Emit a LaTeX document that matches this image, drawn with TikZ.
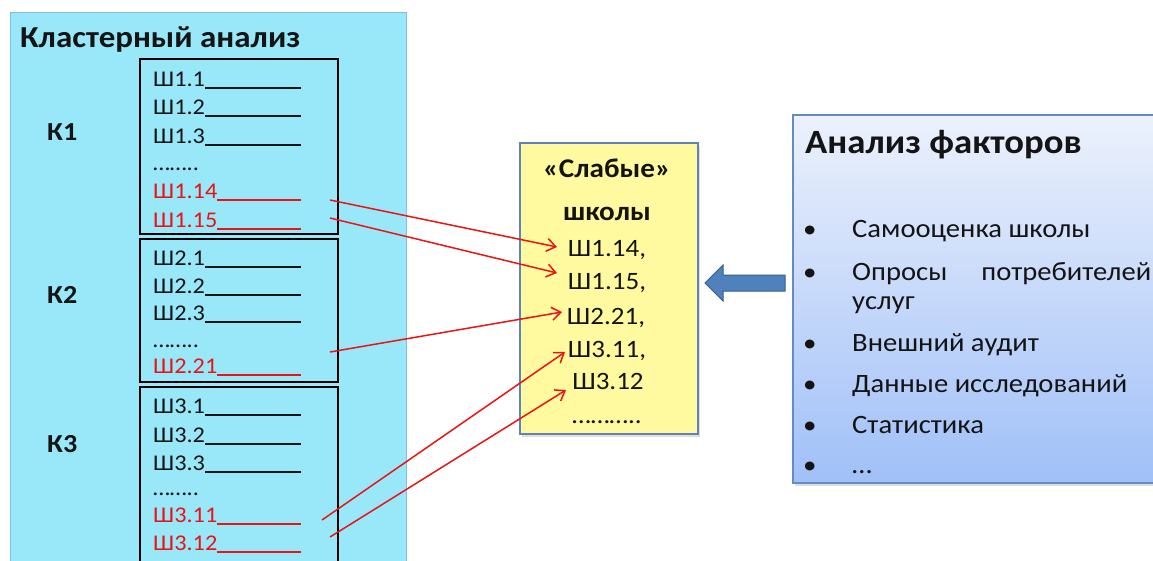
\documentclass[tikz,border=0pt]{standalone}
\usepackage{fontspec}
\setmainfont{Carlito}[FakeStretch=1.08]
\usetikzlibrary{arrows.meta,shadows,calc}

\definecolor{panelcyan}{RGB}{152,232,250}
\definecolor{paneledge}{RGB}{130,190,235}
\definecolor{notefill}{RGB}{255,250,160}
\definecolor{noteedge}{RGB}{95,130,185}
\definecolor{factortop}{RGB}{236,241,252}
\definecolor{factorbot}{RGB}{160,192,248}
\definecolor{factoredge}{RGB}{100,140,195}
\definecolor{pointerfill}{RGB}{79,129,189}
\definecolor{pointeredge}{RGB}{56,93,138}
\definecolor{pickred}{RGB}{235,20,20}
\definecolor{ink}{RGB}{20,20,20}

% a school entry followed by a blank line up to a fixed right edge
\newcommand\schoolrow[1]{\hbox to 148pt{#1\leaders\hrule height -1pt depth 2.8pt\hfill}}

\begin{document}
\begin{tikzpicture}[x=1pt,y=-1pt,
  rowtext/.style={anchor=base west, inner sep=0pt, text=ink, font=\fontsize{22.5}{22.5}\selectfont},
  pickrow/.style={rowtext, text=pickred},
  clusterlabel/.style={anchor=base west, inner sep=0pt, text=ink, font=\bfseries\fontsize{26}{26}\selectfont},
  clusterbox/.style={draw=black, line width=1.6pt},
  weaktext/.style={anchor=base, inner sep=0pt, text=ink, font=\fontsize{25}{25}\selectfont},
  weaktitle/.style={anchor=base, inner sep=0pt, text=ink, font=\bfseries\fontsize{27}{27}\selectfont},
  factortext/.style={anchor=base west, inner sep=0pt, text=ink, font=\fontsize{26.5}{26.5}\selectfont},
  bulletmark/.style={anchor=base west, inner sep=0pt, text=ink, font=\fontsize{25}{25}\selectfont},
  linkarrow/.style={draw=pickred, line width=1.5pt, -{Straight Barb[length=9pt,width=13pt]}},
]
\useasboundingbox (0,0) rectangle (1153,560);
\fill[white] (0,0) rectangle (1153,560);

% cluster analysis panel
\path[fill=panelcyan, draw=paneledge, line width=0.6pt] (10,12) rectangle (406,575);
\node[anchor=base west, inner sep=0pt, text=ink, font=\bfseries\fontsize{30.5}{30.5}\selectfont]
  (clustertitle) at (20,47) {Кластерный анализ};

% cluster boxes
\draw[clusterbox] (140,59) rectangle (338,234);
\draw[clusterbox] (140,239) rectangle (338,382);
\draw[clusterbox] (140,387) rectangle (338,575);

\node[clusterlabel] (k1) at (47,140) {К1};
\node[clusterlabel] (k2) at (47,303) {К2};
\node[clusterlabel] (k3) at (47,452) {К3};

% cluster 1
\node[rowtext] (s11) at (153,86) {\schoolrow{Ш1.1}};
\node[rowtext] (s12) at (153,114) {\schoolrow{Ш1.2}};
\node[rowtext] (s13) at (153,143) {\schoolrow{Ш1.3}};
\node[rowtext] (s1d) at (153,170) {……..};
\node[pickrow] (s114) at (153,198) {\schoolrow{Ш1.14}};
\node[pickrow] (s115) at (153,227) {\schoolrow{Ш1.15}};
% cluster 2
\node[rowtext] (s21) at (153,265) {\schoolrow{Ш2.1}};
\node[rowtext] (s22) at (153,293) {\schoolrow{Ш2.2}};
\node[rowtext] (s23) at (153,320) {\schoolrow{Ш2.3}};
\node[rowtext] (s2d) at (153,347) {……..};
\node[pickrow] (s221) at (153,373) {\schoolrow{Ш2.21}};
% cluster 3
\node[rowtext] (s31) at (153,413) {\schoolrow{Ш3.1}};
\node[rowtext] (s32) at (153,442) {\schoolrow{Ш3.2}};
\node[rowtext] (s33) at (153,470) {\schoolrow{Ш3.3}};
\node[rowtext] (s3d) at (153,495) {……..};
\node[pickrow] (s311) at (153,522) {\schoolrow{Ш3.11}};
\node[pickrow] (s312) at (153,550) {\schoolrow{Ш3.12}};

% weak schools note
\path[fill=notefill, draw=noteedge, line width=1.6pt,
  drop shadow={shadow xshift=2pt, shadow yshift=-3pt, opacity=0.25}]
  (520,143) rectangle (698,434);
\node[weaktitle] (wt1) at (607,177) {«Слабые»};
\node[weaktitle] (wt2) at (607,220) {школы};
\node[weaktext] (w114) at (607,256) {Ш1.14,};
\node[weaktext] (w115) at (607,289) {Ш1.15,};
\node[weaktext] (w221) at (606,324) {Ш2.21,};
\node[weaktext] (w311) at (607,357) {Ш3.11,};
\node[weaktext] (w312) at (608,389) {Ш3.12};
\node[weaktext] (wdots) at (607,423) {………..};

% arrow ends
\coordinate (a114) at (330,200);
\coordinate (a115) at (330,218);
\coordinate (a221) at (330,352);
\coordinate (a311) at (322,520);
\coordinate (a312) at (330,537);
\coordinate (b114) at (557,247);
\coordinate (b115) at (557,273);
\coordinate (b221) at (562,312);
\coordinate (b311) at (565,352);
\coordinate (b312) at (566,390);

\draw[linkarrow] (a114) -- (b114);
\draw[linkarrow] (a115) -- (b115);
\draw[linkarrow] (a221) -- (b221);
\draw[linkarrow] (a311) -- (b311);
\draw[linkarrow] (a312) -- (b312);

% factor analysis panel
\path[top color=factortop, bottom color=factorbot, draw=factoredge, line width=1.4pt,
  drop shadow={shadow xshift=2pt, shadow yshift=-3pt, opacity=0.25}]
  (793,115) rectangle (1165,483);
\node[anchor=base west, inner sep=0pt, text=ink, font=\bfseries\fontsize{34}{34}\selectfont]
  (factortitle) at (805,153) {Анализ факторов};

\foreach \yy/\nm in {237/f1,280/f2,351/f3,392/f4,433/f5,473/f6}{
  \node[bulletmark] (b\nm) at (803,\yy) {•};
}
\node[factortext] (f1) at (852,237) {Самооценка школы};
\node[factortext] (f2) at (852,280) {\hbox to 299pt{Опросы\hfill потребителей}};
\node[factortext] (f2b) at (852,309) {услуг};
\node[factortext] (f3) at (852,351) {Внешний аудит};
\node[factortext] (f4) at (852,392) {Данные исследований};
\node[factortext] (f5) at (852,433) {Статистика};
\node[factortext] (f6) at (852,473) {…};

% pointer from factors to weak schools
\coordinate (ptip) at (705,283);
\path[fill=pointerfill, draw=pointeredge, line width=1pt]
  (ptip) -- (723,265) -- (723,275) -- (785,275) -- (785,291) -- (723,291) -- (723,301) -- cycle;
\end{tikzpicture}
\end{document}
